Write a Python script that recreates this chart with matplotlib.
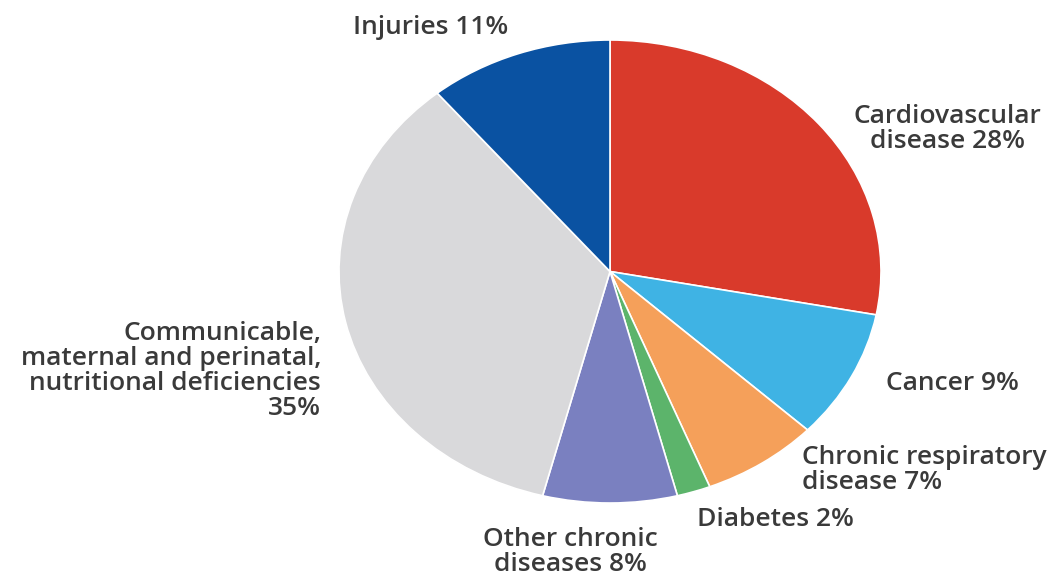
import matplotlib.pyplot as plt

# share of deaths by cause, clockwise from the top
causes = ['Cardiovascular disease', 'Cancer', 'Chronic respiratory disease',
          'Diabetes', 'Other chronic diseases',
          'Communicable, maternal and perinatal, nutritional deficiencies',
          'Injuries']
shares = [28, 9, 7, 2, 8, 35, 11]
colors = ['#D93A2B', '#3FB3E4', '#F5A05A', '#5CB46B', '#7A80C0', '#D9D9DB', '#0A52A2']

W, H = 1060, 581
fig = plt.figure(figsize=(W / 100, H / 100), dpi=100)
# pie is a bit squashed vertically in the original
ax = fig.add_axes([339 / W, (H - 503) / H, 542 / W, 463 / H])
ax.pie(shares, colors=colors, startangle=90, counterclock=False,
       wedgeprops={'edgecolor': 'white', 'linewidth': 1.2})
ax.set_aspect('auto')
ax.set_xlim(-1, 1)
ax.set_ylim(-1, 1)
ax.axis('off')

font = {'family': ['Open Sans', 'DejaVu Sans'], 'size': 19, 'color': '#3a3a3a',
        'weight': 'semibold'}

def label(x, y, s, ha):
    fig.text(x / W, 1 - y / H, s, ha=ha, va='center', linespacing=1.0, **font)

label(431, 27, 'Injuries 11%', 'center')
label(947, 129, 'Cardiovascular\ndisease 28%', 'center')
label(321, 371, 'Communicable,\nmaternal and perinatal,\nnutritional deficiencies\n35%', 'right')
label(952, 383, 'Cancer 9%', 'center')
label(802, 470, 'Chronic respiratory\ndisease 7%', 'left')
label(697, 520, 'Diabetes 2%', 'left')
label(570, 552, 'Other chronic\ndiseases 8%', 'center')

fig.savefig('out.png', dpi=100, facecolor='white')
